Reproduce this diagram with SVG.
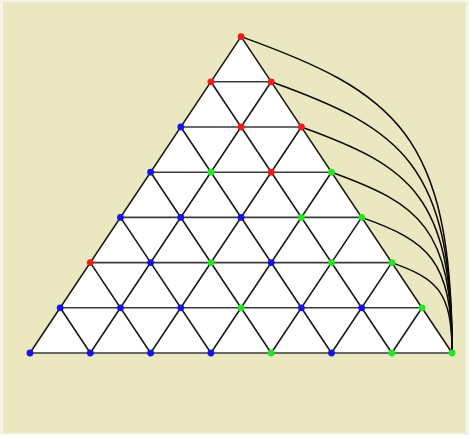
<svg xmlns="http://www.w3.org/2000/svg" width="469" height="435" viewBox="0 0 469 435">
<defs>
<style>
.grid{stroke:#1a1a1a;stroke-width:1.6;fill:none;stroke-linecap:round}
.hz{stroke:#3a3a3a;stroke-width:1.6;fill:none}
.arc{stroke:#0a0a0a;stroke-width:1.5;fill:none}
.r{fill:#f21a1a}
.b{fill:#1414e6}
.g{fill:#22e622}
</style>
</defs>
<rect x="0" y="0" width="469" height="435" fill="#f7f5ea"/>
<rect x="3" y="2" width="463" height="431" fill="#ebe7c1"/>
<polygon points="241.05,36.6 452.1,353 30,353" fill="#ffffff"/>
<g id="connectors">
<g id="horizontals" class="hz">
<line x1="210.9" y1="81.8" x2="271.2" y2="81.8"/>
<line x1="180.8" y1="127" x2="301.4" y2="127"/>
<line x1="150.6" y1="172.2" x2="331.5" y2="172.2"/>
<line x1="120.5" y1="217.4" x2="361.7" y2="217.4"/>
<line x1="90.3" y1="262.6" x2="391.8" y2="262.6"/>
<line x1="60.2" y1="307.8" x2="422" y2="307.8"/>
<line x1="30" y1="353" x2="452.1" y2="353"/>
</g>
<g id="up-right" class="grid">
<line x1="30" y1="353" x2="241.05" y2="36.6"/>
<line x1="90.3" y1="353" x2="271.2" y2="81.8"/>
<line x1="150.6" y1="353" x2="301.4" y2="127"/>
<line x1="210.9" y1="353" x2="331.5" y2="172.2"/>
<line x1="271.2" y1="353" x2="361.7" y2="217.4"/>
<line x1="331.5" y1="353" x2="391.8" y2="262.6"/>
<line x1="391.8" y1="353" x2="422" y2="307.8"/>
</g>
<g id="up-left" class="grid">
<line x1="90.3" y1="353" x2="60.2" y2="307.8"/>
<line x1="150.6" y1="353" x2="90.3" y2="262.6"/>
<line x1="210.9" y1="353" x2="120.5" y2="217.4"/>
<line x1="271.2" y1="353" x2="150.6" y2="172.2"/>
<line x1="331.5" y1="353" x2="180.8" y2="127"/>
<line x1="391.8" y1="353" x2="210.9" y2="81.8"/>
<line x1="452.1" y1="353" x2="241.05" y2="36.6"/>
</g>
<g id="arcs" class="arc">
<path d="M241.05,36.6 C395,92 452.1,133 452.1,353"/>
<path d="M271.2,81.8 C403.2,129.3 452.1,164.4 452.1,353"/>
<path d="M301.4,127 C411.3,166.6 452.1,195.9 452.1,353"/>
<path d="M331.5,172.2 C419.5,203.9 452.1,227.3 452.1,353"/>
<path d="M361.7,217.4 C427.6,241.1 452.1,258.7 452.1,353"/>
<path d="M391.8,262.6 C435.8,278.4 452.1,290.1 452.1,353"/>
</g>
</g>
<g id="nodes">
<g id="n0-0"><circle class="r" cx="241.05" cy="36.6" r="3.4"/></g>
<g id="n1-0"><circle class="r" cx="210.9" cy="81.8" r="3.4"/></g>
<g id="n1-1"><circle class="r" cx="271.2" cy="81.8" r="3.4"/></g>
<g id="n2-0"><circle class="b" cx="180.8" cy="127" r="3.4"/></g>
<g id="n2-1"><circle class="r" cx="241.05" cy="127" r="3.4"/></g>
<g id="n2-2"><circle class="r" cx="301.4" cy="127" r="3.4"/></g>
<g id="n3-0"><circle class="b" cx="150.6" cy="172.2" r="3.4"/></g>
<g id="n3-1"><circle class="g" cx="210.9" cy="172.2" r="3.4"/></g>
<g id="n3-2"><circle class="r" cx="271.2" cy="172.2" r="3.4"/></g>
<g id="n3-3"><circle class="g" cx="331.5" cy="172.2" r="3.4"/></g>
<g id="n4-0"><circle class="b" cx="120.5" cy="217.4" r="3.4"/></g>
<g id="n4-1"><circle class="b" cx="180.8" cy="217.4" r="3.4"/></g>
<g id="n4-2"><circle class="b" cx="241.05" cy="217.4" r="3.4"/></g>
<g id="n4-3"><circle class="g" cx="301.4" cy="217.4" r="3.4"/></g>
<g id="n4-4"><circle class="g" cx="361.7" cy="217.4" r="3.4"/></g>
<g id="n5-0"><circle class="r" cx="90.3" cy="262.6" r="3.4"/></g>
<g id="n5-1"><circle class="b" cx="150.6" cy="262.6" r="3.4"/></g>
<g id="n5-2"><circle class="g" cx="210.9" cy="262.6" r="3.4"/></g>
<g id="n5-3"><circle class="b" cx="271.2" cy="262.6" r="3.4"/></g>
<g id="n5-4"><circle class="g" cx="331.5" cy="262.6" r="3.4"/></g>
<g id="n5-5"><circle class="g" cx="391.8" cy="262.6" r="3.4"/></g>
<g id="n6-0"><circle class="b" cx="60.2" cy="307.8" r="3.4"/></g>
<g id="n6-1"><circle class="b" cx="120.5" cy="307.8" r="3.4"/></g>
<g id="n6-2"><circle class="b" cx="180.8" cy="307.8" r="3.4"/></g>
<g id="n6-3"><circle class="g" cx="241.05" cy="307.8" r="3.4"/></g>
<g id="n6-4"><circle class="b" cx="301.4" cy="307.8" r="3.4"/></g>
<g id="n6-5"><circle class="b" cx="361.7" cy="307.8" r="3.4"/></g>
<g id="n6-6"><circle class="g" cx="422" cy="307.8" r="3.4"/></g>
<g id="n7-0"><circle class="b" cx="30" cy="353" r="3.4"/></g>
<g id="n7-1"><circle class="b" cx="90.3" cy="353" r="3.4"/></g>
<g id="n7-2"><circle class="b" cx="150.6" cy="353" r="3.4"/></g>
<g id="n7-3"><circle class="b" cx="210.9" cy="353" r="3.4"/></g>
<g id="n7-4"><circle class="g" cx="271.2" cy="353" r="3.4"/></g>
<g id="n7-5"><circle class="b" cx="331.5" cy="353" r="3.4"/></g>
<g id="n7-6"><circle class="g" cx="391.8" cy="353" r="3.4"/></g>
<g id="n7-7"><circle class="g" cx="452.1" cy="353" r="3.4"/></g>
</g>
</svg>
